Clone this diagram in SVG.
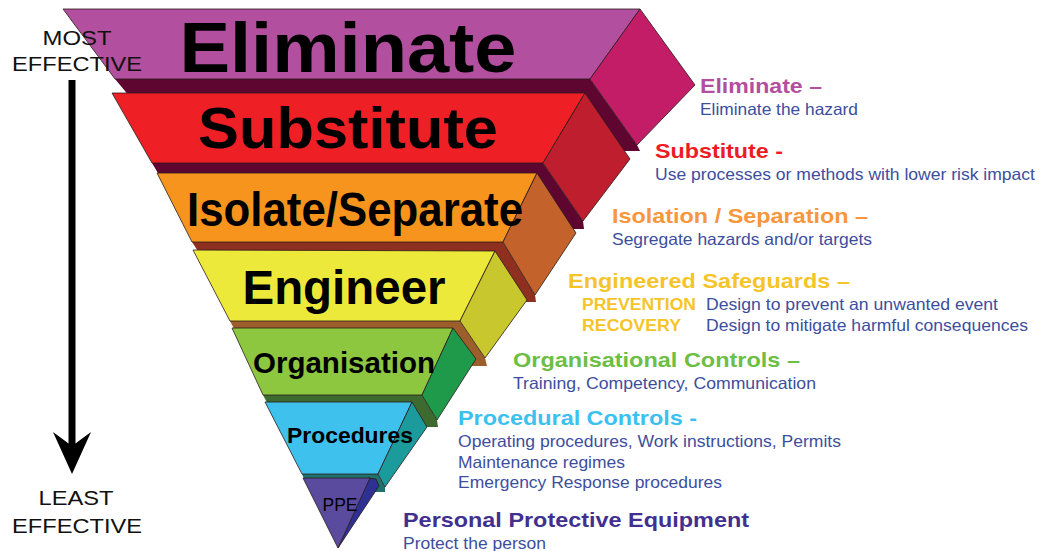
<svg xmlns="http://www.w3.org/2000/svg" width="1040" height="551" viewBox="0 0 1040 551">
<style>
.face{stroke:#2a1a1a;stroke-width:0.8;stroke-linejoin:round}
.band{stroke:none}
.big{font-family:"Liberation Sans",Arial,sans-serif;font-weight:bold;fill:#000;text-anchor:middle}
.side-lbl{font-family:"Liberation Sans",Arial,sans-serif;fill:#111;text-anchor:middle;font-size:21px}
.hd{font-family:"Liberation Sans",Arial,sans-serif;font-weight:bold;font-size:21px}
.bd{font-family:"Liberation Sans",Arial,sans-serif;font-size:16.5px;fill:#3D4E9E}
.sub{font-family:"Liberation Sans",Arial,sans-serif;font-weight:bold;font-size:16px;fill:#F6C428}
</style>
<defs>
<marker id="head" viewBox="0 0 42 40" refX="14" refY="20" markerWidth="42" markerHeight="40" markerUnits="userSpaceOnUse" orient="auto">
<path d="M42 20 L0 1 L14 20 L0 39 Z" fill="#000"/>
</marker>
</defs>
<rect width="1040" height="551" fill="#fff"/>

<g id="connectors">
<line x1="72" y1="80" x2="72" y2="446" stroke="#000" stroke-width="7" marker-end="url(#head)"/>
</g>

<g id="eliminate">
<polygon class="band" fill="#5E0530" points="115,79 590,79 637,145 640,151 600,151 130,97"/>
<polygon class="face" fill="#B24F9E" points="63,9 640,9 590,79 115,79"/>
<polygon class="face" fill="#C21D66" points="640,9 695,85 637,145 590,79"/>
<text class="big" x="348" y="72" font-size="70" textLength="337" lengthAdjust="spacingAndGlyphs">Eliminate</text>
</g>

<g id="substitute">
<polygon class="band" fill="#5E0530" points="152,163 543,163 583,221 584,229 560,229 165,185"/>
<polygon class="face" fill="#EE1F25" points="112,93 585,93 543,163 152,163"/>
<polygon class="face" fill="#BE1E2D" points="585,93 630,159 583,221 543,163"/>
<text class="big" x="348" y="148" font-size="57" textLength="300" lengthAdjust="spacingAndGlyphs">Substitute</text>
</g>

<g id="isolate">
<polygon class="band" fill="#8E2F1F" points="192,242 503,242 535,295 536,302 515,302 205,262"/>
<polygon class="face" fill="#F7941E" points="157,173 537,173 503,242 192,242"/>
<polygon class="face" fill="#C4622B" points="537,173 576,233 535,295 503,242"/>
<text class="big" x="355" y="226" font-size="48" textLength="336" lengthAdjust="spacingAndGlyphs">Isolate/Separate</text>
</g>

<g id="engineer">
<polygon class="band" fill="#9C5F2B" points="230,321 460,321 485,358 487,366 470,366 240,340"/>
<polygon class="face" fill="#EDE93B" points="193,250 495,251 460,321 230,321"/>
<polygon class="face" fill="#C8C82E" points="495,251 527,300 485,358 460,321"/>
<text class="big" x="344" y="304" font-size="48" textLength="203" lengthAdjust="spacingAndGlyphs">Engineer</text>
</g>

<g id="organisation">
<polygon class="band" fill="#3D6A2E" points="263,395 422,395 437,420 438,427 425,427 272,412"/>
<polygon class="face" fill="#8DC63F" points="232,328 453,328 422,395 263,395"/>
<polygon class="face" fill="#1E9A4A" points="453,328 476,359 437,420 422,395"/>
<text class="big" x="344" y="373" font-size="30" textLength="182" lengthAdjust="spacingAndGlyphs">Organisation</text>
</g>

<g id="procedures">
<polygon class="band" fill="#20716B" points="302,474 378,474 385,487 385,492 375,492 306,484"/>
<polygon class="face" fill="#3FC1EE" points="265,402 412,402 378,474 302,474"/>
<polygon class="face" fill="#1B9B9B" points="412,402 427,427 385,487 378,474"/>
<text class="big" x="350" y="443" font-size="22" textLength="126" lengthAdjust="spacingAndGlyphs">Procedures</text>
</g>

<g id="ppe">
<polygon class="face" fill="#2E3192" points="368,478 376,479 379,486 338,548"/>
<polygon class="face" fill="#5B4B9F" points="303,478 370,478 338,548"/>
<text font-family="Liberation Sans, Arial, sans-serif" font-size="18" fill="#000" text-anchor="middle" x="340" y="511" textLength="35" lengthAdjust="spacingAndGlyphs">PPE</text>
</g>

<g id="scale-labels">
<text class="side-lbl" x="77" y="45" textLength="69" lengthAdjust="spacingAndGlyphs">MOST</text>
<text class="side-lbl" x="77" y="71" textLength="130" lengthAdjust="spacingAndGlyphs">EFFECTIVE</text>
<text class="side-lbl" x="76" y="505" textLength="75" lengthAdjust="spacingAndGlyphs">LEAST</text>
<text class="side-lbl" x="77" y="533" textLength="130" lengthAdjust="spacingAndGlyphs">EFFECTIVE</text>
</g>

<g id="desc-eliminate">
<text class="hd" x="700" y="93" fill="#B24F9E" textLength="122" lengthAdjust="spacingAndGlyphs">Eliminate –</text>
<text class="bd" x="700" y="115" textLength="158" lengthAdjust="spacingAndGlyphs">Eliminate the hazard</text>
</g>
<g id="desc-substitute">
<text class="hd" x="655" y="158" fill="#ED1C24" textLength="128" lengthAdjust="spacingAndGlyphs">Substitute -</text>
<text class="bd" x="655" y="180" textLength="380" lengthAdjust="spacingAndGlyphs">Use processes or methods with lower risk impact</text>
</g>
<g id="desc-isolation">
<text class="hd" x="612" y="223" fill="#F7963A" textLength="256" lengthAdjust="spacingAndGlyphs">Isolation / Separation –</text>
<text class="bd" x="612" y="245" textLength="260" lengthAdjust="spacingAndGlyphs">Segregate hazards and/or targets</text>
</g>
<g id="desc-engineered">
<text class="hd" x="568" y="288" fill="#F6C428" textLength="282" lengthAdjust="spacingAndGlyphs">Engineered Safeguards –</text>
<text class="sub" x="582" y="310" textLength="114" lengthAdjust="spacingAndGlyphs">PREVENTION</text>
<text class="bd" x="706" y="310" textLength="292" lengthAdjust="spacingAndGlyphs">Design to prevent an unwanted event</text>
<text class="sub" x="582" y="331" textLength="99" lengthAdjust="spacingAndGlyphs">RECOVERY</text>
<text class="bd" x="706" y="331" textLength="322" lengthAdjust="spacingAndGlyphs">Design to mitigate harmful consequences</text>
</g>
<g id="desc-organisational">
<text class="hd" x="513" y="367" fill="#6DBE45" textLength="287" lengthAdjust="spacingAndGlyphs">Organisational Controls –</text>
<text class="bd" x="513" y="389" textLength="303" lengthAdjust="spacingAndGlyphs">Training, Competency, Communication</text>
</g>
<g id="desc-procedural">
<text class="hd" x="458" y="425" fill="#3BC1EF" textLength="239" lengthAdjust="spacingAndGlyphs">Procedural Controls -</text>
<text class="bd" x="458" y="447" textLength="383" lengthAdjust="spacingAndGlyphs">Operating procedures, Work instructions, Permits</text>
<text class="bd" x="458" y="468" textLength="167" lengthAdjust="spacingAndGlyphs">Maintenance regimes</text>
<text class="bd" x="458" y="488" textLength="264" lengthAdjust="spacingAndGlyphs">Emergency Response procedures</text>
</g>
<g id="desc-ppe">
<text class="hd" x="403" y="527" fill="#41308F" textLength="346" lengthAdjust="spacingAndGlyphs">Personal Protective Equipment</text>
<text class="bd" x="403" y="549" textLength="143" lengthAdjust="spacingAndGlyphs">Protect the person</text>
</g>
</svg>
